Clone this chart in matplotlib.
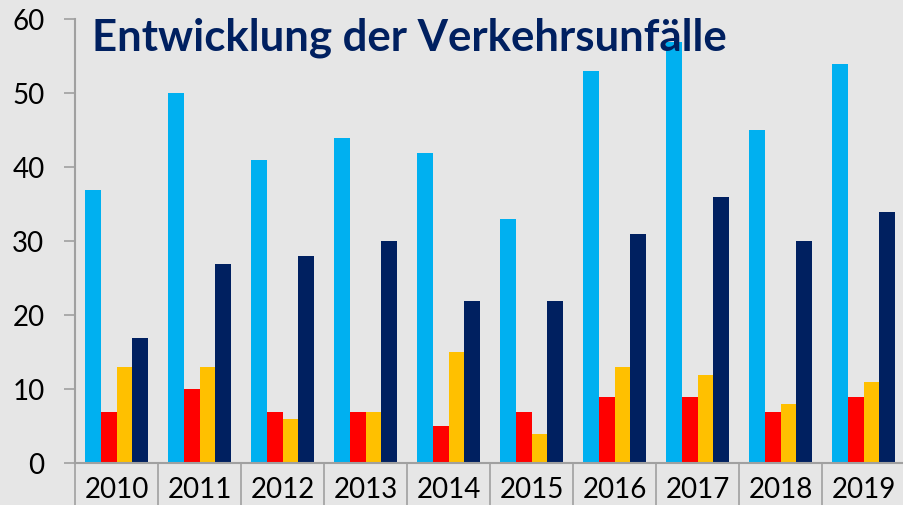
import numpy as np
import matplotlib
matplotlib.use('Agg')
import matplotlib.pyplot as plt

# Daten
jahre = ['2010', '2011', '2012', '2013', '2014', '2015', '2016', '2017', '2018', '2019']
serie_hellblau = [37, 50, 41, 44, 42, 33, 53, 57, 45, 54]
serie_rot = [7, 10, 7, 7, 5, 7, 9, 9, 7, 9]
serie_gelb = [13, 13, 6, 7, 15, 4, 13, 12, 8, 11]
serie_dunkelblau = [17, 27, 28, 30, 22, 22, 31, 36, 30, 34]

farben = ['#00b0f0', '#ff0000', '#ffc000', '#002060']
hintergrund = '#e6e6e6'

plt.rcParams['font.family'] = ['Lato', 'DejaVu Sans']

fig = plt.figure(figsize=(9.04, 5.05), dpi=100, facecolor=hintergrund)
ax = fig.add_axes([75 / 904, 41.7 / 505, 830 / 904, 444 / 505], facecolor=hintergrund)

x = np.arange(len(jahre))
breite = 0.1875
serien = [serie_hellblau, serie_rot, serie_gelb, serie_dunkelblau]
for i, (werte, farbe) in enumerate(zip(serien, farben)):
    ax.bar(x + (i - 1.5) * breite, werte, width=breite, color=farbe, zorder=2)

ax.set_xlim(-0.5, len(jahre) - 0.5)
ax.set_ylim(0, 60)
ax.set_yticks(range(0, 61, 10))

# x-Achse: Beschriftungen mittig, Trennstriche an den Grenzen
ax.set_xticks(x)
ax.set_xticklabels(jahre)
ax.set_xticks(np.arange(-0.5, len(jahre), 1), minor=True)
ax.tick_params(axis='x', which='major', length=0, pad=10, labelsize=20)
ax.tick_params(axis='x', which='minor', length=31, width=1.2, color='#a0a0a0')
ax.tick_params(axis='y', length=8, width=1.2, color='#a0a0a0', pad=14, labelsize=20)

for s in ['top', 'right']:
    ax.spines[s].set_visible(False)
for s in ['left', 'bottom']:
    ax.spines[s].set_color('#a0a0a0')
    ax.spines[s].set_linewidth(1.5)

ax.text(92 / 904, 1 - 50 / 505, 'Entwicklung der Verkehrsunfälle', transform=fig.transFigure,
        fontsize=31.5, fontweight='bold', color='#002060', va='baseline', ha='left', zorder=5)

fig.savefig('out.png', dpi=100, facecolor=hintergrund)
